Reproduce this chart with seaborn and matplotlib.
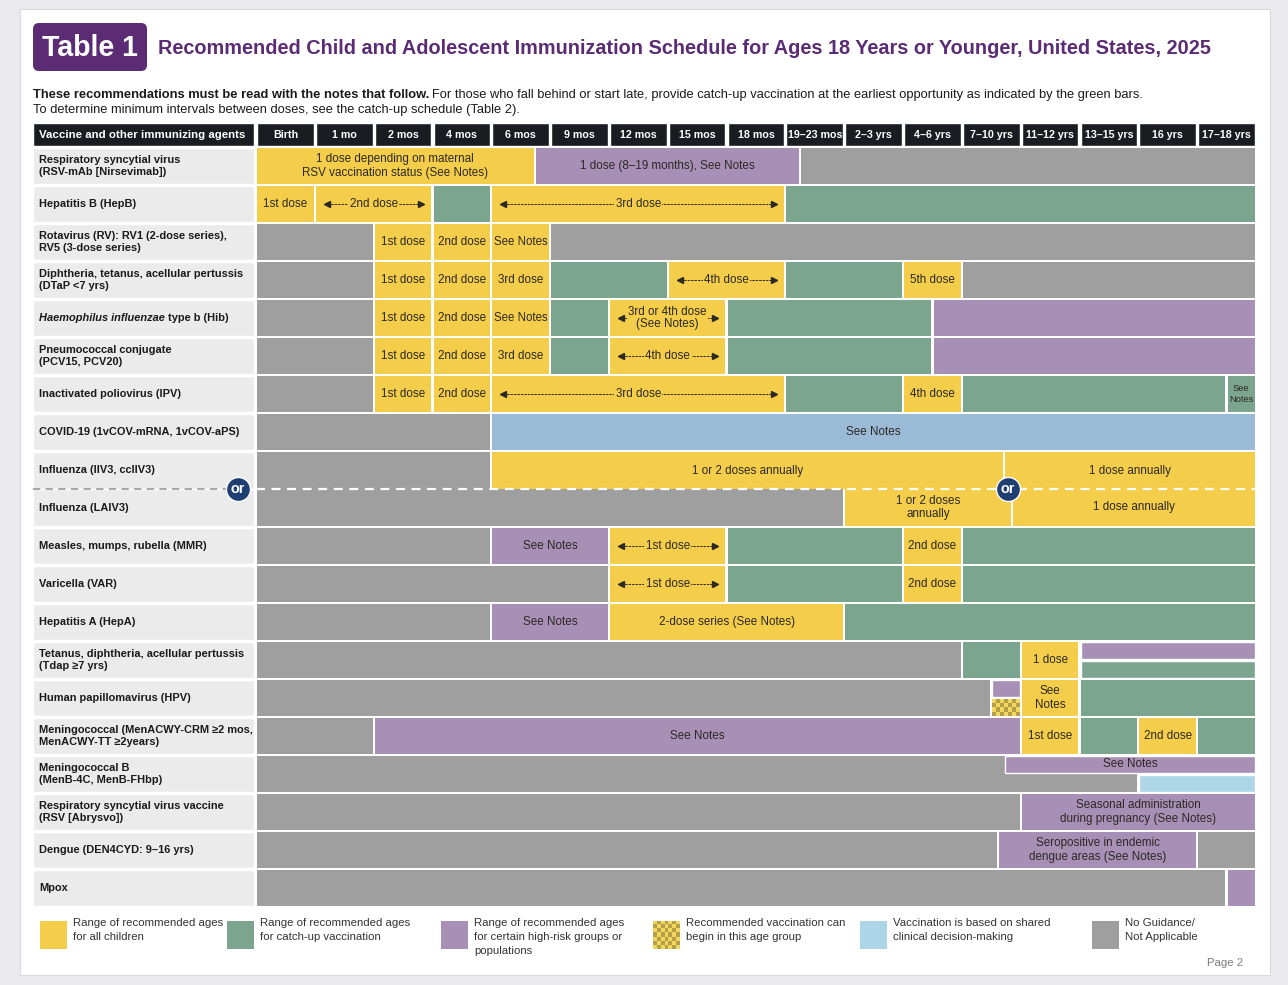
import numpy as np
import matplotlib
matplotlib.use("Agg")
import matplotlib.pyplot as plt
import seaborn as sns
from matplotlib import font_manager
from matplotlib.patches import Rectangle, FancyBboxPatch
from matplotlib.colors import ListedColormap
from matplotlib.transforms import IdentityTransform

# ---- data -------------------------------------------------------------
ages = ["Birth", "1 mo", "2 mos", "4 mos", "6 mos", "9 mos", "12 mos", "15 mos", "18 mos",
        "19–23 mos", "2–3 yrs", "4–6 yrs", "7–10 yrs", "11–12 yrs", "13–15 yrs", "16 yrs", "17–18 yrs"]

vaccines = [
    "Respiratory syncytial virus\n(RSV-mAb [Nirsevimab])",
    "Hepatitis B (HepB)",
    "Rotavirus (RV): RV1 (2-dose series),\nRV5 (3-dose series)",
    "Diphtheria, tetanus, acellular pertussis\n(DTaP <7 yrs)",
    "Haemophilus influenzae type b (Hib)",
    "Pneumococcal conjugate\n(PCV15, PCV20)",
    "Inactivated poliovirus (IPV)",
    "COVID-19 (1vCOV-mRNA, 1vCOV-aPS)",
    "Influenza (IIV3, ccIIV3)",
    "Influenza (LAIV3)",
    "Measles, mumps, rubella (MMR)",
    "Varicella (VAR)",
    "Hepatitis A (HepA)",
    "Tetanus, diphtheria, acellular pertussis\n(Tdap ≥7 yrs)",
    "Human papillomavirus (HPV)",
    "Meningococcal (MenACWY-CRM ≥2 mos,\nMenACWY-TT ≥2years)",
    "Meningococcal B\n(MenB-4C, MenB-FHbp)",
    "Respiratory syncytial virus vaccine\n(RSV [Abrysvo])",
    "Dengue (DEN4CYD: 9–16 yrs)",
    "Mpox",
]
italic_part = "Haemophilus influenzae"

# (row, start age-column, end age-column, kind, text, part); "<>" text = arrow span
# kinds: Y all children, G catch-up, P high-risk, C can begin, B/L shared decision, N none
segments = [
    (0, 0, 4.74, "Y", "1 dose depending on maternal\nRSV vaccination status (See Notes)", "full"),
    (0, 4.74, 9.25, "P", "1 dose (8–19 months), See Notes", "full"),
    (0, 9.25, 17, "N", "", "full"),
    (1, 0, 1, "Y", "1st dose", "full"),
    (1, 1, 3, "Y", "<>2nd dose", "full"),
    (1, 3, 4, "G", "", "full"),
    (1, 4, 9, "Y", "<>3rd dose", "full"),
    (1, 9, 17, "G", "", "full"),
    (2, 0, 2, "N", "", "full"),
    (2, 2, 3, "Y", "1st dose", "full"),
    (2, 3, 4, "Y", "2nd dose", "full"),
    (2, 4, 5, "Y", "See Notes", "full"),
    (2, 5, 17, "N", "", "full"),
    (3, 0, 2, "N", "", "full"),
    (3, 2, 3, "Y", "1st dose", "full"),
    (3, 3, 4, "Y", "2nd dose", "full"),
    (3, 4, 5, "Y", "3rd dose", "full"),
    (3, 5, 7, "G", "", "full"),
    (3, 7, 9, "Y", "<>4th dose", "full"),
    (3, 9, 11, "G", "", "full"),
    (3, 11, 12, "Y", "5th dose", "full"),
    (3, 12, 17, "N", "", "full"),
    (4, 0, 2, "N", "", "full"),
    (4, 2, 3, "Y", "1st dose", "full"),
    (4, 3, 4, "Y", "2nd dose", "full"),
    (4, 4, 5, "Y", "See Notes", "full"),
    (4, 5, 6, "G", "", "full"),
    (4, 6, 8, "Y", "<>3rd or 4th dose\n(See Notes)", "full"),
    (4, 8, 11.5, "G", "", "full"),
    (4, 11.5, 17, "P", "", "full"),
    (5, 0, 2, "N", "", "full"),
    (5, 2, 3, "Y", "1st dose", "full"),
    (5, 3, 4, "Y", "2nd dose", "full"),
    (5, 4, 5, "Y", "3rd dose", "full"),
    (5, 5, 6, "G", "", "full"),
    (5, 6, 8, "Y", "<>4th dose", "full"),
    (5, 8, 11.5, "G", "", "full"),
    (5, 11.5, 17, "P", "", "full"),
    (6, 0, 2, "N", "", "full"),
    (6, 2, 3, "Y", "1st dose", "full"),
    (6, 3, 4, "Y", "2nd dose", "full"),
    (6, 4, 9, "Y", "<>3rd dose", "full"),
    (6, 9, 11, "G", "", "full"),
    (6, 11, 12, "Y", "4th dose", "full"),
    (6, 12, 16.5, "G", "", "full"),
    (6, 16.5, 17, "G", "See\nNotes", "full"),
    (7, 0, 4, "N", "", "full"),
    (7, 4, 17, "B", "See Notes", "full"),
    (8, 0, 4, "N", "", "full"),
    (8, 4, 12.72, "Y", "1 or 2 doses annually", "full"),
    (8, 12.72, 17, "Y", "1 dose annually", "full"),
    (9, 0, 10, "N", "", "full"),
    (9, 10, 12.85, "Y", "1 or 2 doses\nannually", "full"),
    (9, 12.85, 17, "Y", "1 dose annually", "full"),
    (10, 0, 4, "N", "", "full"),
    (10, 4, 6, "P", "See Notes", "full"),
    (10, 6, 8, "Y", "<>1st dose", "full"),
    (10, 8, 11, "G", "", "full"),
    (10, 11, 12, "Y", "2nd dose", "full"),
    (10, 12, 17, "G", "", "full"),
    (11, 0, 6, "N", "", "full"),
    (11, 6, 8, "Y", "<>1st dose", "full"),
    (11, 8, 11, "G", "", "full"),
    (11, 11, 12, "Y", "2nd dose", "full"),
    (11, 12, 17, "G", "", "full"),
    (12, 0, 4, "N", "", "full"),
    (12, 4, 6, "P", "See Notes", "full"),
    (12, 6, 10, "Y", "2-dose series (See Notes)", "full"),
    (12, 10, 17, "G", "", "full"),
    (13, 0, 12, "N", "", "full"),
    (13, 12, 13, "G", "", "full"),
    (13, 13, 14, "Y", "1 dose", "full"),
    (13, 14, 17, "P", "", "top"),
    (13, 14, 17, "G", "", "bot"),
    (14, 0, 12.5, "N", "", "full"),
    (14, 12.5, 13, "P", "", "top"),
    (14, 12.5, 13, "C", "", "bot"),
    (14, 13, 14, "Y", "See\nNotes", "full"),
    (14, 14, 17, "G", "", "full"),
    (15, 0, 2, "N", "", "full"),
    (15, 2, 13, "P", "See Notes", "full"),
    (15, 13, 14, "Y", "1st dose", "full"),
    (15, 14, 15, "G", "", "full"),
    (15, 15, 16, "Y", "2nd dose", "full"),
    (15, 16, 17, "G", "", "full"),
    (16, 0, 15, "N", "", "full"),
    (16, 12.72, 17, "P", "See Notes", "top"),
    (16, 15, 17, "L", "", "bot"),
    (17, 0, 13, "N", "", "full"),
    (17, 13, 17, "P", "Seasonal administration\nduring pregnancy (See Notes)", "full"),
    (18, 0, 12.62, "N", "", "full"),
    (18, 12.62, 16, "P", "Seropositive in endemic\ndengue areas (See Notes)", "full"),
    (18, 16, 17, "N", "", "full"),
    (19, 0, 16.5, "N", "", "full"),
    (19, 16.5, 17, "P", "", "full"),
]

legend_kinds = ["Y", "G", "P", "C", "L", "N"]
legend_texts = [
    "Range of recommended ages\nfor all children",
    "Range of recommended ages\nfor catch-up vaccination",
    "Range of recommended ages\nfor certain high-risk groups or\npopulations",
    "Recommended vaccination can\nbegin in this age group",
    "Vaccination is based on shared\nclinical decision-making",
    "No Guidance/\nNot Applicable",
]

colors = {"Y": "#f4cd4b", "G": "#7ca590", "P": "#a78fb5", "N": "#9f9f9f",
          "B": "#9bbad6", "L": "#acd6e8", "C": "#f4cd4b"}
checker_cmap = ListedColormap(["#f2d65e", "#b5a04a"])
PURPLE = "#5b2c73"
NAVY = "#1f3e72"
TXT = "#2c2925"

# ---- style ------------------------------------------------------------
sns.set_theme(style="white")
names = {f.name for f in font_manager.fontManager.ttflist}
FONT = "Liberation Sans Narrow" if "Liberation Sans Narrow" in names else "Liberation Sans"
FAMILY = [FONT, "DejaVu Sans"]
plt.rcParams["font.family"] = FAMILY

W, H = 1288, 985
fig = plt.figure(figsize=(W / 100, H / 100), dpi=100, facecolor="#e9e9ee")
renderer = fig.canvas.get_renderer()


def fit_size(s, width_px, weight="normal", style="normal"):
    t = fig.text(0, 0, s, fontsize=10, fontweight=weight, fontstyle=style)
    w = t.get_window_extent(renderer=renderer).width
    t.remove()
    return 10 * width_px / w


def px(x, y):
    return x / W, 1 - y / H


# white page
fig.add_artist(Rectangle(px(20, 975), 1250 / W, 966 / H, transform=fig.transFigure,
                         facecolor="white", edgecolor="#dadade", lw=0.8, zorder=0))

# title block
fig.add_artist(FancyBboxPatch((33, H - 71), 114, 48, boxstyle="round,pad=0,rounding_size=6",
                              transform=IdentityTransform(), facecolor=PURPLE, edgecolor="none"))
fig.text(*px(90, 48), "Table 1", color="white", fontweight="bold",
         fontsize=fit_size("Table 1", 96, "bold"), ha="center", va="center")
fig.text(*px(158, 49),
         "Recommended Child and Adolescent Immunization Schedule for Ages 18 Years or Younger, United States, 2025",
         color=PURPLE, fontweight="bold", ha="left", va="center",
         fontsize=fit_size("Recommended Child and Adolescent Immunization Schedule for Ages 18 Years or Younger, "
                           "United States, 2025", 1051, "bold"))

bold_part = "These recommendations must be read with the notes that follow. "
reg_part = ("For those who fall behind or start late, provide catch-up vaccination at the earliest "
            "opportunity as indicated by the green bars.")
wb = fit_size(bold_part, 100, "bold")
wr = fit_size(reg_part, 100)
sub_fs = 1110 / (100 / wb + 100 / wr)
fig.text(*px(33, 95), bold_part, fontweight="bold", fontsize=sub_fs, color="#1a1a1a", va="center")
fig.text(*px(33 + 100 * sub_fs / wb, 95), reg_part, fontsize=sub_fs, color="#1a1a1a", va="center")
fig.text(*px(33, 110), "To determine minimum intervals between doses, see the catch-up schedule (Table 2).",
         fontsize=sub_fs, color="#1a1a1a", va="center")

# ---- schedule grid ----------------------------------------------------
LEFT = -3.79
COL_PX = 58.8
ax = fig.add_axes([33 / W, 1 - 907 / H, (1256 - 33) / W, (907 - 123) / H])
ax.set_facecolor("white")
GX, GY = 2.2 / COL_PX, 2.2 / 38
HEAD = -0.63
nrows = len(vaccines)

head_fs = fit_size("Vaccine and other immunizing agents", 205, "bold")
col_fs = min(head_fs, fit_size("19–23 mos", 54, "bold"))
lab_fs = min(fit_size("Tetanus, diphtheria, acellular pertussis", 211, "bold"),
             fit_size("Meningococcal (MenACWY-CRM ≥2 mos,", 212, "bold"))
cell_fs = fit_size("1st dose", 44)

# header row
ax.barh(HEAD / 2 - GY / 4, -LEFT - GX, left=LEFT, height=-HEAD - GY / 2, color="#1b1c22")
ax.text(LEFT + 0.1, HEAD / 2, "Vaccine and other immunizing agents", color="white",
        fontweight="bold", fontsize=head_fs, va="center", ha="left")
ax.barh([HEAD / 2 - GY / 4] * len(ages), [1 - GX] * len(ages), left=np.arange(len(ages)) + GX / 2,
        height=-HEAD - GY / 2, color="#1b1c22")
for i, a in enumerate(ages):
    ax.text(i + 0.5, HEAD / 2, a, color="white", fontweight="bold", fontsize=col_fs,
            ha="center", va="center")


def row_span(row, part):
    top, bottom = row, row + 1
    if part == "top":
        bottom = row + 0.5
    if part == "bot":
        top = row + 0.5
    t_gap = 0 if (row == 9 and part != "bot") else GY / 2
    b_gap = 0 if (row == 8 and part != "top") else GY / 2
    return top + t_gap, bottom - b_gap


# vaccine name column
for r, name in enumerate(vaccines):
    y0, y1 = row_span(r, "full")
    ax.barh((y0 + y1) / 2, -LEFT - GX, left=LEFT, height=y1 - y0, color="#ebebeb")
    if name.startswith(italic_part):
        t1 = ax.text(LEFT + 0.1, r + 0.5, italic_part, fontweight="bold", fontstyle="italic",
                     fontsize=lab_fs, color="#1a1a1a", va="center", ha="left")
        ax.annotate(name[len(italic_part):], xy=(1, 0.5), xycoords=t1, fontweight="bold",
                    fontsize=lab_fs, color="#1a1a1a", va="center", ha="left")
    else:
        ax.text(LEFT + 0.1, r + 0.5, name, fontweight="bold", fontsize=lab_fs,
                color="#1a1a1a", va="center", ha="left", linespacing=1.2)

# coloured spans
for row, x0, x1, kind, label, part in segments:
    y0, y1 = row_span(row, part)
    if kind == "C":
        chk = np.indices((4, 7)).sum(axis=0) % 2
        ax.imshow(chk, cmap=checker_cmap, extent=(x0 + GX / 2, x1 - GX / 2, y1, y0),
                  aspect="auto", interpolation="nearest", zorder=2)
    else:
        ax.barh((y0 + y1) / 2, x1 - x0 - GX, left=x0 + GX / 2, height=y1 - y0, color=colors[kind],
                edgecolor="white" if part != "full" else "none", linewidth=1.0, zorder=2)
    if not label:
        continue
    xc, yc = (x0 + x1) / 2, (y0 + y1) / 2
    if label.startswith("<>"):
        label = label[2:]
        pad = 0.15
        ax.hlines(yc, x0 + pad, x1 - pad, colors=TXT, linestyles=(0, (2.5, 1.0)), lw=0.7, zorder=3)
        ax.plot([x0 + pad + 0.05], [yc], marker="<", ms=4.5, color=TXT, zorder=3)
        ax.plot([x1 - pad - 0.05], [yc], marker=">", ms=4.5, color=TXT, zorder=3)
        ax.text(xc, yc, label, fontsize=cell_fs, color=TXT, ha="center", va="center",
                linespacing=1.05, zorder=4,
                bbox=dict(boxstyle="square,pad=0.12", fc=colors[kind], ec="none"))
    else:
        longest = max(label.split("\n"), key=len)
        fs = min(cell_fs, fit_size(longest, (x1 - x0) * COL_PX - 5))
        ax.text(xc, yc, label, fontsize=fs, color=TXT, ha="center", va="center",
                linespacing=1.2, zorder=4)

# influenza "or" divider
ax.hlines(9, LEFT, -0.45, colors="#a0a0a0", linestyles=(0, (4, 3)), lw=1.3, zorder=3)
ax.hlines(9, 0, 17, colors="white", linestyles=(0, (4, 3)), lw=1.6, zorder=3)
ax.scatter([-0.31, 12.78], [9, 9], s=300, color=NAVY, edgecolor="white", linewidth=1.0, zorder=5)
for xo in [-0.31, 12.78]:
    ax.text(xo, 9, "or", color="white", fontweight="bold", fontsize=cell_fs + 2,
            ha="center", va="center", zorder=6)

ax.set_xlim(LEFT, 17)
ax.set_ylim(nrows, HEAD)
ax.axis("off")

# ---- legend -----------------------------------------------------------
legend_x = [40, 227, 441, 653, 860, 1092]
leg_fs = fit_size("Range of recommended ages", 150)
for xk, kind, txt in zip(legend_x, legend_kinds, legend_texts):
    sw = fig.add_axes([xk / W, 1 - 949 / H, 27 / W, 28 / H])
    if kind == "C":
        sw.imshow(np.indices((7, 7)).sum(axis=0) % 2, cmap=checker_cmap, aspect="auto",
                  interpolation="nearest", extent=(0, 1, 0, 1))
    else:
        sw.add_patch(Rectangle((0, 0), 1, 1, color=colors[kind]))
    sw.set_xlim(0, 1)
    sw.set_ylim(0, 1)
    sw.axis("off")
    fig.text(*px(xk + 33, 918), txt, fontsize=leg_fs, color="#333333", va="top", ha="left",
             linespacing=1.52)

fig.text(*px(1243, 963), "Page 2", fontsize=leg_fs, color="#7a7a7a", ha="right", va="center")

fig.savefig("out.png", dpi=100, facecolor=fig.get_facecolor())
